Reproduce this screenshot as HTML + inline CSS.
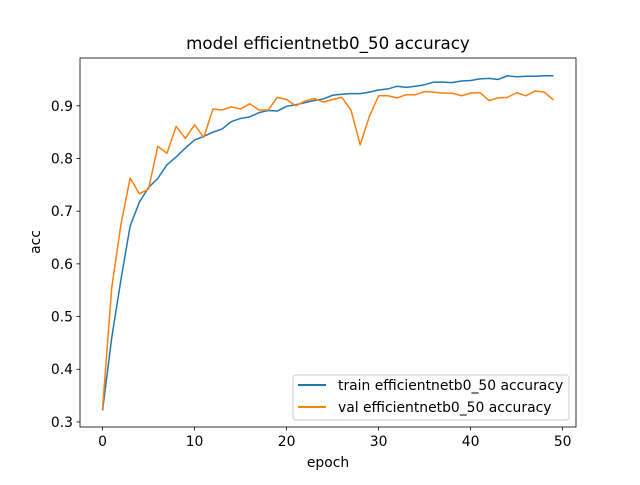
<!DOCTYPE html>
<html><head><meta charset="utf-8"><style>
body{margin:0;background:#fff;}
svg text{font-family:"DejaVu Sans","Liberation Sans",sans-serif;fill:#000;}
</style></head><body>
<svg id="chart" width="640" height="480" xmlns="http://www.w3.org/2000/svg">
<rect width="640" height="480" fill="#fff"/>
<text x="328" y="49" font-size="16.7" text-anchor="middle">model efficientnetb0_50 accuracy</text>
<g id="plot"></g>
<rect x="80" y="58" width="496" height="369" fill="none" stroke="#000" stroke-width="0.8"/>
<text x="328" y="467" font-size="13.9" text-anchor="middle">epoch</text>
<text x="0" y="0" font-size="13.9" text-anchor="middle" transform="translate(40,242) rotate(-90)">acc</text>
<g>
<rect x="293" y="375" width="276" height="45" rx="3" fill="#fff" fill-opacity="0.8" stroke="#ccc" stroke-width="1"/>
<line x1="298" y1="385" x2="326" y2="385" stroke="#1f77b4" stroke-width="2"/>
<text x="338" y="390" font-size="13.9">train efficientnetb0_50 accuracy</text>
<line x1="298" y1="407" x2="326" y2="407" stroke="#ff7f0e" stroke-width="2"/>
<text x="338" y="412" font-size="13.9">val efficientnetb0_50 accuracy</text>
</g>
</svg>
<script>
const xTicks=[0,10,20,30,40,50];
const yTicks=[0.3,0.4,0.5,0.6,0.7,0.8,0.9];
const trainAcc=[0.322,0.46,0.57,0.672,0.717,0.745,0.762,0.788,0.803,0.82,0.835,0.842,0.85,0.856,0.87,0.876,0.879,0.887,0.891,0.89,0.899,0.902,0.906,0.91,0.913,0.92,0.922,0.923,0.923,0.926,0.93,0.932,0.937,0.935,0.937,0.94,0.945,0.945,0.944,0.947,0.948,0.951,0.952,0.95,0.957,0.955,0.956,0.956,0.957,0.957];
const valAcc=[0.325,0.555,0.675,0.763,0.733,0.742,0.823,0.81,0.861,0.838,0.864,0.84,0.894,0.892,0.898,0.894,0.904,0.892,0.892,0.916,0.912,0.9,0.909,0.914,0.907,0.912,0.916,0.892,0.826,0.88,0.919,0.919,0.915,0.921,0.921,0.927,0.926,0.924,0.924,0.919,0.924,0.925,0.91,0.915,0.916,0.925,0.919,0.928,0.926,0.911];
const NS='http://www.w3.org/2000/svg';
const X0=80,X1=576,Y0=58,Y1=427;
const xmin=-2.45,xmax=51.45,ymin=0.2904,ymax=0.9907;
function xs(v){return X0+(v-xmin)/(xmax-xmin)*(X1-X0);}
function ys(v){return Y1-(v-ymin)/(ymax-ymin)*(Y1-Y0);}
const g=document.getElementById('plot');
function mk(t,a){const e=document.createElementNS(NS,t);for(const k in a)e.setAttribute(k,a[k]);g.appendChild(e);return e;}
xTicks.forEach(t=>{
 const l=mk('line',{x1:xs(t),x2:xs(t),y1:Y1,y2:Y1+3.5,stroke:'#000','stroke-width':0.8});
 
 
 const tx=mk('text',{x:xs(t),y:Y1+19,'font-size':13.9,'text-anchor':'middle'});tx.textContent=t;
 
 
});
yTicks.forEach(t=>{
 const l=mk('line',{x1:X0-3.5,x2:X0,y1:ys(t),y2:ys(t),stroke:'#000','stroke-width':0.8});
 
 
 const tx=mk('text',{x:X0-7,y:ys(t)+5,'font-size':13.9,'text-anchor':'end'});tx.textContent=t.toFixed(1);
 
 
});
function line(arr,color,name){
 const p=mk('polyline',{points:arr.map((v,i)=>xs(i)+','+ys(v)).join(' '),fill:'none',stroke:color,'stroke-width':1.5,'stroke-linejoin':'round'});
 
 
}
line(trainAcc,'#1f77b4','train-accuracy-line');
line(valAcc,'#ff7f0e','val-accuracy-line');
</script>
</body></html>
